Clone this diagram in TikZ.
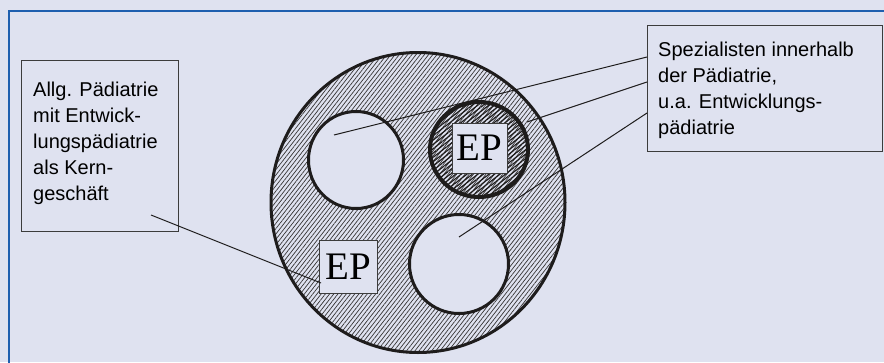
\documentclass[tikz,border=0pt]{standalone}
\usepackage{fontspec}
\usetikzlibrary{patterns.meta,shapes.geometric}
\newfontfamily\labfont{Liberation Sans}
\newfontfamily\epfont{Liberation Serif}
\definecolor{bg}{RGB}{223,226,240}
\definecolor{frameblue}{RGB}{30,95,175}
\definecolor{ink}{RGB}{30,28,28}
\definecolor{boxline}{RGB}{60,60,60}
\begin{document}
\begin{tikzpicture}[x=1pt,y=-1pt,
  textbox/.style={draw=boxline, line width=1pt, rectangle, inner sep=0pt},
  labtext/.style={anchor=base west, inner sep=0pt},
  epbox/.style={draw=boxline, line width=0.8pt, fill=bg, rectangle, inner sep=0pt, font=\epfont\fontsize{39}{39}\selectfont},
  hole/.style={draw=ink, line width=3pt, ellipse, fill=bg, inner sep=0pt},
  conn/.style={draw=ink, line width=1pt}
]
\fill[bg] (0,0) rectangle (884,362);
\useasboundingbox (0,0) rectangle (884,362);
\draw[frameblue, line width=1.8pt] (9,363) -- (9,11) -- (885,11);
% outer hatched ellipse
\node[ellipse, draw=ink, line width=3pt, minimum width=294pt, minimum height=300pt, inner sep=0pt,
  pattern={Lines[angle=52,distance=3.3pt,line width=0.7pt]}, pattern color=ink!90] (outer) at (418,202.5) {};
% inner circles
\node[hole, minimum width=95pt, minimum height=97pt] (c1) at (356,160) {};
\node[ellipse, draw=ink, line width=4pt, inner sep=0pt, minimum width=98pt, minimum height=95pt,
  pattern={Lines[angle=38,distance=3.4pt,line width=1.2pt]}, pattern color=ink] (c2) at (479,149.5) {};
\node[hole, minimum width=99pt, minimum height=99pt] (c3) at (459,264) {};
% EP boxes
\node[epbox, minimum width=55pt, minimum height=50pt] (ep1) at (479.5,148) {EP};
\node[epbox, minimum width=58pt, minimum height=53pt] (ep2) at (348,266.5) {EP};
% text boxes
\node[textbox, minimum width=157pt, minimum height=171pt] (lbox) at (99.5,145.5) {};
\node[textbox, minimum width=235pt, minimum height=126pt] (rbox) at (764.5,88) {};
\node[labtext] (ltext) at (33,96) {\parbox[t]{140pt}{\labfont\fontsize{20}{26}\selectfont\raggedright Allg. Pädiatrie\\ mit Entwick-\\ lungspädiatrie\\ als Kern-\\ geschäft}};
\node[labtext] (rtext) at (658,56) {\parbox[t]{220pt}{\labfont\fontsize{20}{26}\selectfont\raggedright Spezialisten innerhalb\\ der Pädiatrie,\\ u.a. Entwicklungs-\\ pädiatrie}};
% connectors
\coordinate (la) at (151,215);
\coordinate (lb) at (321,283);
\coordinate (r1) at (647,57);
\coordinate (r2) at (647,82);
\coordinate (r3) at (647,113);
\coordinate (e1) at (334,135);
\coordinate (e2) at (527,122);
\coordinate (e3) at (459,237);
\draw[conn] (la) -- (lb);
\draw[conn] (r1) -- (e1);
\draw[conn] (r2) -- (e2);
\draw[conn] (r3) -- (e3);
\end{tikzpicture}
\end{document}
